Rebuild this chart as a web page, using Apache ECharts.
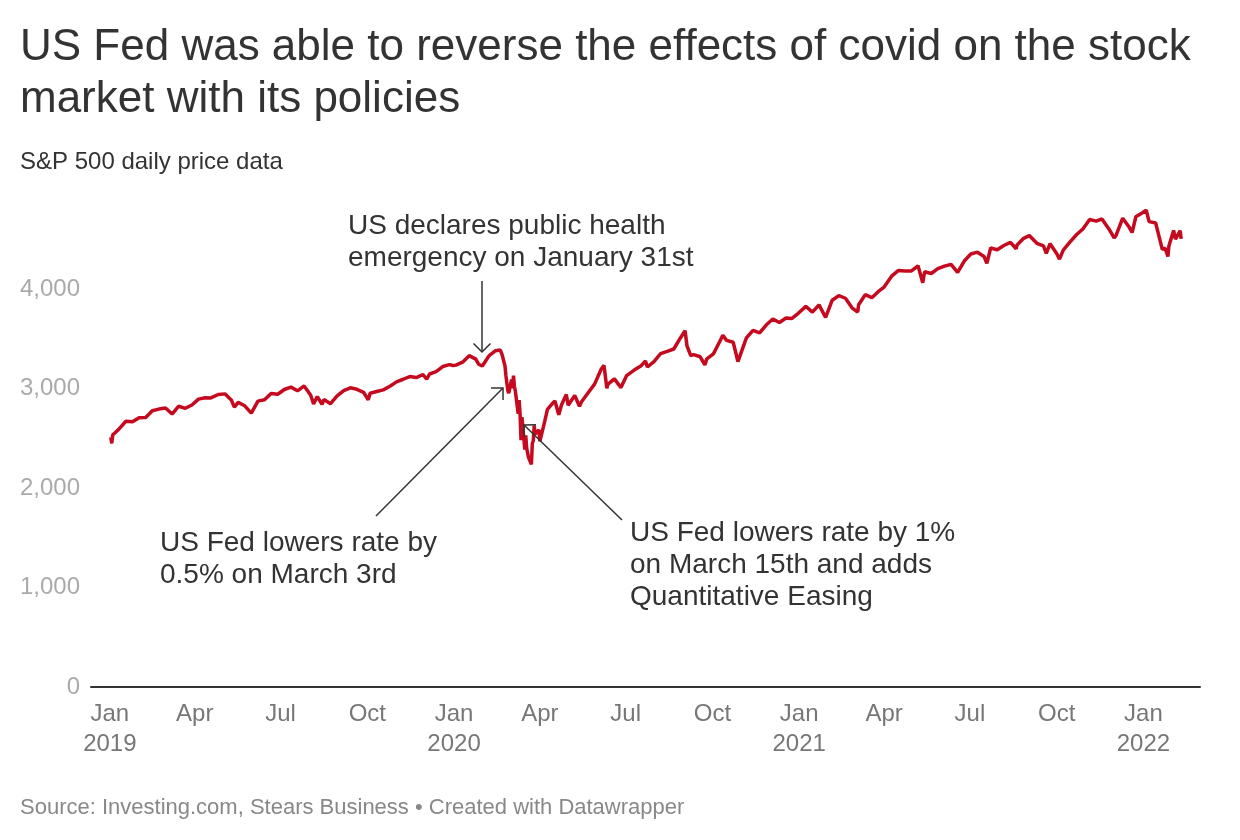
<!DOCTYPE html>
<html>
<head>
<meta charset="utf-8">
<script src="https://cdn.jsdelivr.net/npm/echarts@6/dist/echarts.min.js"></script>
<style>
html,body{margin:0;padding:0;background:#fff;}
#chart{width:1240px;height:840px;}
</style>
</head>
<body>
<div id="chart"></div>
<script>
// S&P 500 closes (selected trading days)
const dates = [
"2019-01-02","2019-01-03","2019-01-04","2019-01-11","2019-01-18","2019-01-25","2019-02-01","2019-02-08","2019-02-15","2019-02-22",
"2019-03-01","2019-03-08","2019-03-15","2019-03-22","2019-03-29","2019-04-05","2019-04-12","2019-04-18","2019-04-26","2019-05-03",
"2019-05-10","2019-05-13","2019-05-17","2019-05-24","2019-05-31","2019-06-07","2019-06-14","2019-06-21","2019-06-28","2019-07-05",
"2019-07-12","2019-07-19","2019-07-26","2019-08-02","2019-08-05","2019-08-09","2019-08-14","2019-08-16","2019-08-23","2019-08-30",
"2019-09-06","2019-09-13","2019-09-20","2019-09-27","2019-10-02","2019-10-04","2019-10-11","2019-10-18","2019-10-25","2019-11-01",
"2019-11-08","2019-11-15","2019-11-22","2019-11-29","2019-12-03","2019-12-06","2019-12-13","2019-12-20","2019-12-27","2019-12-31",
"2020-01-03","2020-01-10","2020-01-17","2020-01-24","2020-01-27","2020-01-31","2020-02-07","2020-02-14","2020-02-19","2020-02-21",
"2020-02-24","2020-02-25","2020-02-27","2020-02-28","2020-03-02","2020-03-03","2020-03-04","2020-03-05","2020-03-06","2020-03-09",
"2020-03-10","2020-03-11","2020-03-12","2020-03-13","2020-03-16","2020-03-17","2020-03-18","2020-03-19","2020-03-20","2020-03-23",
"2020-03-24","2020-03-25","2020-03-26","2020-03-27","2020-03-31","2020-04-01","2020-04-03","2020-04-06","2020-04-09","2020-04-14",
"2020-04-17","2020-04-21","2020-04-24","2020-04-29","2020-05-01","2020-05-08","2020-05-13","2020-05-15","2020-05-22","2020-05-29",
"2020-06-05","2020-06-08","2020-06-11","2020-06-12","2020-06-19","2020-06-26","2020-07-02","2020-07-10","2020-07-17","2020-07-22",
"2020-07-24","2020-07-31","2020-08-07","2020-08-14","2020-08-21","2020-08-28","2020-09-02","2020-09-04","2020-09-08","2020-09-11",
"2020-09-18","2020-09-23","2020-09-25","2020-10-02","2020-10-09","2020-10-12","2020-10-16","2020-10-23","2020-10-28","2020-10-30",
"2020-11-06","2020-11-13","2020-11-20","2020-11-27","2020-12-04","2020-12-11","2020-12-18","2020-12-24","2020-12-31","2021-01-08",
"2021-01-15","2021-01-22","2021-01-27","2021-01-29","2021-02-05","2021-02-12","2021-02-19","2021-02-26","2021-03-04","2021-03-05",
"2021-03-12","2021-03-19","2021-03-26","2021-04-01","2021-04-09","2021-04-16","2021-04-23","2021-04-30","2021-05-07","2021-05-12",
"2021-05-14","2021-05-21","2021-05-28","2021-06-04","2021-06-11","2021-06-18","2021-06-25","2021-07-02","2021-07-09","2021-07-16",
"2021-07-19","2021-07-23","2021-07-30","2021-08-06","2021-08-13","2021-08-19","2021-08-20","2021-08-27","2021-09-02","2021-09-10",
"2021-09-17","2021-09-20","2021-09-24","2021-10-01","2021-10-04","2021-10-08","2021-10-15","2021-10-22","2021-10-29","2021-11-05",
"2021-11-12","2021-11-18","2021-11-26","2021-12-01","2021-12-03","2021-12-10","2021-12-17","2021-12-20","2021-12-24","2021-12-31",
"2022-01-04","2022-01-07","2022-01-14","2022-01-21","2022-01-24","2022-01-27","2022-01-28","2022-02-02","2022-02-04","2022-02-09",
"2022-02-10"
];
const prices = [
2510,2448,2532,2596,2671,2665,2707,2708,2776,2793,
2804,2743,2822,2801,2834,2893,2907,2905,2940,2946,
2881,2812,2860,2826,2752,2873,2887,2950,2942,2990,
3014,2977,3026,2932,2845,2919,2840,2889,2847,2926,
2979,3007,2992,2962,2887,2952,2970,2986,3023,3067,
3093,3120,3110,3141,3093,3146,3169,3221,3240,3231,
3235,3265,3330,3295,3244,3226,3328,3380,3386,3338,
3226,3128,2979,2954,3090,3003,3130,3023,2972,2747,
2882,2741,2481,2711,2386,2529,2398,2409,2305,2237,
2447,2475,2630,2541,2585,2470,2489,2664,2790,2846,
2875,2736,2837,2939,2831,2930,2820,2864,2955,3044,
3194,3232,3002,3041,3097,3009,3130,3185,3225,3276,
3216,3271,3351,3373,3397,3508,3580,3427,3331,3341,
3319,3237,3298,3348,3477,3534,3484,3465,3271,3270,
3509,3585,3558,3638,3699,3663,3709,3703,3756,3825,
3768,3841,3750,3714,3887,3934,3907,3811,3768,3842,
3943,3913,3975,4020,4129,4185,4180,4181,4233,4063,
4174,4156,4204,4230,4247,4166,4281,4352,4370,4327,
4258,4412,4395,4437,4468,4405,4442,4509,4537,4459,
4433,4358,4455,4357,4300,4391,4471,4545,4605,4698,
4682,4704,4595,4513,4538,4712,4620,4568,4726,4766,
4793,4677,4663,4398,4410,4326,4432,4589,4500,4587,
4504
];
const yTicks = [0, 1000, 2000, 3000, 4000];
const monthNames = ["Jan","Feb","Mar","Apr","May","Jun","Jul","Aug","Sep","Oct","Nov","Dec"];

const titleText = "US Fed was able to reverse the effects of covid on the stock\nmarket with its policies";
const subtitleText = "S&P 500 daily price data";
const sourceText = "Source: Investing.com, Stears Business \u2022 Created with Datawrapper";
const notes = [
  {text: "US declares public health\nemergency on January 31st", x: 348, y: 210},
  {text: "US Fed lowers rate by\n0.5% on March 3rd", x: 160, y: 527},
  {text: "US Fed lowers rate by 1%\non March 15th and adds\nQuantitative Easing", x: 630, y: 517}
];
const arrows = [
  {from: [482, 281], to: [482, 352]},
  {from: [376, 516], to: [503, 388]},
  {from: [622, 520], to: [524, 425]}
];

const FONT = "'Liberation Sans', Arial, sans-serif";
const seriesData = dates.map((d, i) => [d, prices[i]]);

function arrowGraphics(a) {
  const [x1, y1] = a.from, [x2, y2] = a.to;
  const ang = Math.atan2(y1 - y2, x1 - x2);
  const L = 12, w = Math.PI / 4;
  const p1 = [x2 + L * Math.cos(ang - w), y2 + L * Math.sin(ang - w)];
  const p2 = [x2 + L * Math.cos(ang + w), y2 + L * Math.sin(ang + w)];
  const st = {stroke: '#333', lineWidth: 1.5, fill: null};
  return [
    {type: 'polyline', shape: {points: [a.from, a.to]}, style: st, z: 100},
    {type: 'polyline', shape: {points: [p1, a.to, p2]}, style: st, z: 100}
  ];
}

const graphics = [];
notes.forEach(n => graphics.push({
  type: 'text', left: n.x, top: n.y, z: 100,
  style: {text: n.text, font: "28px " + FONT, fill: '#333', lineHeight: 32}
}));
arrows.forEach(a => graphics.push(...arrowGraphics(a)));
graphics.push({
  type: 'text', left: 20, top: 796, z: 100,
  style: {text: sourceText, font: "22px " + FONT, fill: '#888', lineHeight: 24}
});

const chart = echarts.init(document.getElementById('chart'), null, {renderer: 'canvas'});
chart.setOption({
  animation: false,
  backgroundColor: '#fff',
  title: [
    {text: titleText, left: 20, top: 22, padding: 0, textStyle: {fontFamily: FONT, fontSize: 44, fontWeight: 'normal', color: '#333', lineHeight: 52}},
    {text: subtitleText, left: 20, top: 150, padding: 0, textStyle: {fontFamily: FONT, fontSize: 24, fontWeight: 'normal', color: '#333', lineHeight: 24}}
  ],
  grid: {left: 91, right: 40, top: 189.5, bottom: 153, containLabel: false, outerBoundsMode: 'none'},
  xAxis: {
    type: 'time',
    min: '2018-12-12',
    max: '2022-03-02',
    splitNumber: 13,
    minInterval: 89 * 86400000,
    maxInterval: 92 * 86400000,
    axisLine: {show: true, onZero: true, lineStyle: {color: '#333', width: 2}},
    axisTick: {show: false},
    splitLine: {show: false},
    axisLabel: {
      margin: 12,
      fontFamily: FONT, fontSize: 24, color: '#777', lineHeight: 30,
      formatter: function (v) {
        const d = new Date(v);
        const m = d.getMonth();
        if (m === 0) return monthNames[0] + "\n" + d.getFullYear();
        return monthNames[m];
      }
    }
  },
  yAxis: {
    type: 'value',
    min: 0, max: 5000, interval: 1000,
    axisLine: {show: false},
    axisTick: {show: false},
    splitLine: {show: false},
    axisLabel: {
      margin: 11,
      fontFamily: FONT, fontSize: 24, color: '#aaa',
      formatter: function (v) { return yTicks.indexOf(v) >= 0 ? v.toLocaleString('en-US') : ''; }
    }
  },
  series: [{
    type: 'line',
    data: seriesData,
    showSymbol: false,
    lineStyle: {color: '#c50a1f', width: 3.5},
    itemStyle: {color: '#c50a1f'},
    z: 10
  }],
  graphic: graphics
});
</script>
</body>
</html>
